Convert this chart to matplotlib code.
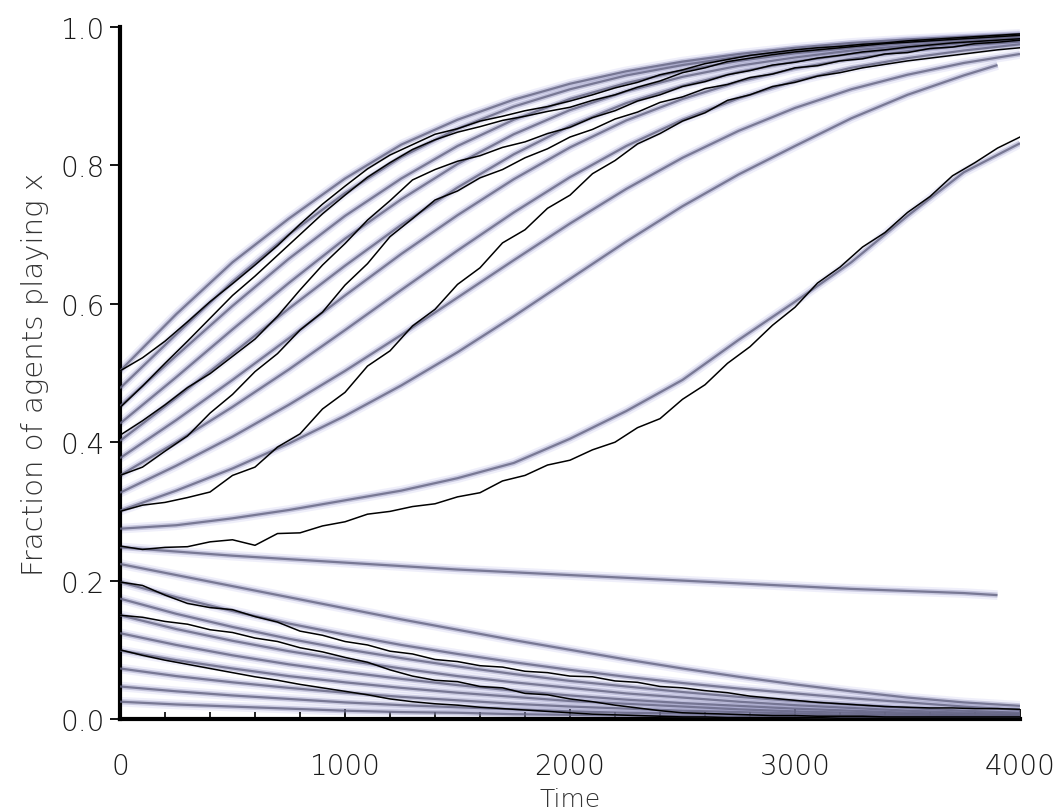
import matplotlib
matplotlib.use("Agg")
import matplotlib.pyplot as plt
from matplotlib.ticker import MultipleLocator

# ---------------- data ----------------
t_blue = [0, 250, 500, 750, 1000, 1250, 1500, 1750, 2000, 2250, 2500,
          2750, 3000, 3250, 3500, 3750, 4000]
t_blue_short = [0, 250, 500, 750, 1000, 1250, 1500, 1750, 2000, 2250, 2500,
                2750, 3000, 3250, 3500, 3750, 3900]

blue_500 = [0.503, 0.585, 0.660, 0.723, 0.781, 0.830, 0.866, 0.895, 0.918, 0.936, 0.950, 0.961, 0.970, 0.977, 0.982, 0.986, 0.990]
blue_475 = [0.478, 0.556, 0.632, 0.700, 0.760, 0.812, 0.853, 0.885, 0.910, 0.930, 0.945, 0.957, 0.966, 0.974, 0.980, 0.984, 0.988]
blue_450 = [0.452, 0.525, 0.597, 0.665, 0.727, 0.781, 0.828, 0.866, 0.896, 0.919, 0.937, 0.951, 0.962, 0.970, 0.977, 0.982, 0.986]
blue_425 = [0.427, 0.494, 0.563, 0.630, 0.694, 0.751, 0.802, 0.845, 0.880, 0.907, 0.928, 0.944, 0.956, 0.966, 0.973, 0.979, 0.984]
blue_400 = [0.402, 0.464, 0.528, 0.593, 0.655, 0.714, 0.768, 0.816, 0.857, 0.890, 0.915, 0.935, 0.950, 0.961, 0.970, 0.977, 0.982]
blue_375 = [0.377, 0.432, 0.490, 0.550, 0.612, 0.672, 0.728, 0.780, 0.826, 0.865, 0.896, 0.921, 0.940, 0.954, 0.965, 0.973, 0.979]
blue_350 = [0.352, 0.400, 0.451, 0.505, 0.562, 0.620, 0.677, 0.732, 0.783, 0.828, 0.866, 0.897, 0.922, 0.941, 0.955, 0.966, 0.975]
blue_325 = [0.327, 0.366, 0.408, 0.454, 0.503, 0.555, 0.609, 0.663, 0.716, 0.766, 0.811, 0.850, 0.883, 0.910, 0.931, 0.948, 0.961]
blue_300 = [0.301, 0.330, 0.362, 0.398, 0.438, 0.482, 0.530, 0.582, 0.636, 0.690, 0.741, 0.787, 0.828, 0.868, 0.902, 0.930, 0.945]
blue_275 = [0.275, 0.280, 0.290, 0.302, 0.316, 0.330, 0.348, 0.370, 0.405, 0.445, 0.490, 0.548, 0.603, 0.660, 0.727, 0.790, 0.832]
blue_250 = [0.248, 0.242, 0.236, 0.231, 0.226, 0.221, 0.216, 0.212, 0.208, 0.204, 0.200, 0.196, 0.192, 0.188, 0.185, 0.182, 0.179]
blue_225 = [0.224, 0.208, 0.192, 0.176, 0.160, 0.144, 0.129, 0.114, 0.100, 0.086, 0.073, 0.061, 0.050, 0.040, 0.031, 0.024, 0.019]
blue_200 = [0.198, 0.176, 0.156, 0.138, 0.122, 0.107, 0.094, 0.082, 0.071, 0.061, 0.052, 0.044, 0.037, 0.030, 0.024, 0.018, 0.013]
blue_175 = [0.174, 0.152, 0.133, 0.116, 0.101, 0.088, 0.076, 0.065, 0.055, 0.047, 0.039, 0.032, 0.026, 0.021, 0.016, 0.012, 0.009]
blue_150 = [0.150, 0.130, 0.113, 0.098, 0.085, 0.073, 0.062, 0.053, 0.045, 0.037, 0.031, 0.025, 0.020, 0.016, 0.012, 0.009, 0.007]
blue_125 = [0.124, 0.107, 0.092, 0.079, 0.068, 0.058, 0.049, 0.041, 0.034, 0.028, 0.023, 0.019, 0.015, 0.012, 0.009, 0.007, 0.005]
blue_100 = [0.099, 0.085, 0.073, 0.062, 0.053, 0.045, 0.038, 0.032, 0.026, 0.022, 0.018, 0.014, 0.011, 0.009, 0.007, 0.005, 0.004]
blue_075 = [0.073, 0.062, 0.053, 0.045, 0.038, 0.032, 0.027, 0.022, 0.018, 0.015, 0.012, 0.010, 0.008, 0.006, 0.005, 0.004, 0.003]
blue_050 = [0.047, 0.040, 0.034, 0.029, 0.024, 0.020, 0.017, 0.014, 0.011, 0.009, 0.008, 0.006, 0.005, 0.004, 0.003, 0.003, 0.002]
blue_025 = [0.025, 0.021, 0.018, 0.015, 0.012, 0.010, 0.009, 0.007, 0.006, 0.005, 0.004, 0.003, 0.003, 0.002, 0.002, 0.001, 0.001]

t_black = list(range(0, 4001, 100))

black_50 = [0.503, 0.522, 0.546, 0.574, 0.603, 0.629, 0.656, 0.684, 0.715, 0.744, 0.770, 0.795, 0.815,
            0.830, 0.845, 0.853, 0.864, 0.871, 0.879, 0.885, 0.893, 0.902, 0.912, 0.920, 0.931, 0.938, 0.947, 0.953,
            0.959, 0.963, 0.967, 0.970, 0.972, 0.975, 0.977, 0.980, 0.982, 0.984, 0.986, 0.988, 0.990]
black_45 = [0.450, 0.481, 0.514, 0.546, 0.579, 0.612, 0.640, 0.670, 0.700, 0.730, 0.757, 0.783, 0.804, 0.823,
            0.837, 0.848, 0.856, 0.865, 0.871, 0.878, 0.884, 0.894, 0.902, 0.913, 0.922, 0.934, 0.941, 0.950,
            0.955, 0.960, 0.964, 0.967, 0.970, 0.973, 0.976, 0.978, 0.980, 0.982, 0.984, 0.986, 0.988]
black_41 = [0.410, 0.431, 0.454, 0.479, 0.499, 0.524, 0.549, 0.582, 0.620, 0.656, 0.687, 0.721, 0.749, 0.779,
            0.794, 0.806, 0.814, 0.826, 0.834, 0.846, 0.855, 0.869, 0.879, 0.893, 0.902, 0.914, 0.921, 0.931,
            0.937, 0.945, 0.949, 0.955, 0.959, 0.964, 0.967, 0.971, 0.974, 0.977, 0.979, 0.981, 0.983]
black_35 = [0.352, 0.364, 0.387, 0.409, 0.442, 0.469, 0.502, 0.528, 0.562, 0.588, 0.627, 0.658, 0.697, 0.723,
            0.750, 0.763, 0.782, 0.794, 0.811, 0.824, 0.841, 0.852, 0.867, 0.877, 0.891, 0.899, 0.911, 0.917,
            0.927, 0.932, 0.941, 0.944, 0.951, 0.954, 0.961, 0.963, 0.969, 0.971, 0.976, 0.978, 0.981]
black_30 = [0.300, 0.309, 0.313, 0.320, 0.328, 0.352, 0.364, 0.393, 0.412, 0.448, 0.472, 0.510, 0.532, 0.568,
            0.592, 0.628, 0.652, 0.688, 0.707, 0.738, 0.757, 0.788, 0.807, 0.831, 0.846, 0.864, 0.876, 0.894,
            0.902, 0.914, 0.920, 0.929, 0.934, 0.941, 0.946, 0.951, 0.955, 0.959, 0.963, 0.967, 0.970]
black_25 = [0.250, 0.245, 0.248, 0.249, 0.256, 0.259, 0.251, 0.268, 0.269, 0.279, 0.285, 0.296, 0.300, 0.307,
            0.311, 0.321, 0.327, 0.344, 0.352, 0.367, 0.374, 0.389, 0.400, 0.421, 0.434, 0.462, 0.483, 0.514,
            0.538, 0.569, 0.595, 0.630, 0.653, 0.682, 0.703, 0.732, 0.755, 0.785, 0.804, 0.825, 0.841]
black_20 = [0.198, 0.193, 0.179, 0.167, 0.161, 0.158, 0.148, 0.140, 0.127, 0.121, 0.112, 0.107, 0.098, 0.094,
            0.086, 0.083, 0.077, 0.075, 0.069, 0.067, 0.062, 0.061, 0.055, 0.053, 0.047, 0.045, 0.041, 0.038,
            0.033, 0.030, 0.027, 0.024, 0.022, 0.020, 0.018, 0.017, 0.016, 0.016, 0.015, 0.015, 0.014]
black_15 = [0.150, 0.147, 0.141, 0.137, 0.129, 0.125, 0.117, 0.112, 0.103, 0.097, 0.089, 0.082, 0.071, 0.062,
            0.056, 0.054, 0.047, 0.045, 0.037, 0.035, 0.029, 0.025, 0.020, 0.016, 0.012, 0.009, 0.008, 0.007,
            0.006, 0.005, 0.005, 0.004, 0.004, 0.004, 0.003, 0.003, 0.003, 0.003, 0.003, 0.003, 0.003]
black_10 = [0.100, 0.092, 0.085, 0.079, 0.073, 0.067, 0.061, 0.056, 0.050, 0.045, 0.040, 0.035, 0.029, 0.025,
            0.022, 0.020, 0.017, 0.015, 0.013, 0.011, 0.009, 0.007, 0.006, 0.005, 0.004, 0.003, 0.003, 0.002,
            0.002, 0.002, 0.002, 0.002, 0.001, 0.001, 0.001, 0.001, 0.001, 0.001, 0.001, 0.001, 0.001]

x_ticks = [0, 1000, 2000, 3000, 4000]
x_ticklabels = ["0", "1000", "2000", "3000", "4000"]
y_ticks = [0.0, 0.2, 0.4, 0.6, 0.8, 1.0]
y_ticklabels = ["0.0", "0.2", "0.4", "0.6", "0.8", "1.0"]

# ---------------- figure ----------------
plt.rcParams['font.family'] = ['DejaVu Sans']
fig = plt.figure(figsize=(10.63, 8.12), dpi=100)
ax = fig.add_axes([120/1063, 1-720/812, 900/1063, 692/812])

blue_long = [blue_500, blue_475, blue_450, blue_425, blue_400, blue_375, blue_350,
             blue_325, blue_275, blue_225, blue_200, blue_175, blue_150, blue_125,
             blue_100, blue_075, blue_050, blue_025]
blue_short = [blue_300, blue_250]

def draw_blue(t, y):
    ax.plot(t, y, color='#a0a0e0', lw=7, alpha=0.16, solid_capstyle='butt', zorder=1)
    ax.plot(t, y, color='#8e8eb8', lw=3.8, alpha=0.40, solid_capstyle='butt', zorder=2)
    ax.plot(t, y, color='#646482', lw=1.6, alpha=0.80, solid_capstyle='butt', zorder=3)

for y in blue_long:
    draw_blue(t_blue, y)
for y in blue_short:
    draw_blue(t_blue_short, y)

for y in [black_50, black_45, black_41, black_35, black_30, black_25,
          black_20, black_15, black_10]:
    ax.plot(t_black, y, color='black', lw=1.1, zorder=4)

ax.set_xlim(0, 4000)
ax.set_ylim(0, 1)
for s in ['top', 'right']:
    ax.spines[s].set_visible(False)
ax.spines['left'].set_linewidth(3)
ax.spines['bottom'].set_linewidth(3)

txt_color = '#1a1a1a'
ax.set_xticks(x_ticks)
ax.set_xticklabels(x_ticklabels)
ax.set_yticks(y_ticks)
ax.set_yticklabels(y_ticklabels)
ax.xaxis.set_minor_locator(MultipleLocator(200))
ax.yaxis.set_minor_locator(MultipleLocator(0.05))
ax.tick_params(axis='x', which='major', direction='in', length=7, width=1.3,
               labelsize=20, pad=24, labelcolor=txt_color)
ax.tick_params(axis='x', which='minor', direction='in', length=5, width=1.2)
ax.tick_params(axis='y', which='major', direction='out', length=7, width=1.3,
               labelsize=20, pad=4, labelcolor=txt_color)
ax.tick_params(axis='y', which='minor', direction='inout', length=3, width=1.2)
for lab in ax.get_xticklabels() + ax.get_yticklabels():
    lab.set_fontweight('light')

ax.set_xlabel("Time", fontsize=18, color='#333333', labelpad=5, fontweight='light')
ax.set_ylabel("Fraction of agents playing x", fontsize=21, color='#333333',
              labelpad=8, fontweight='light')

fig.savefig("out.png", dpi=100)
